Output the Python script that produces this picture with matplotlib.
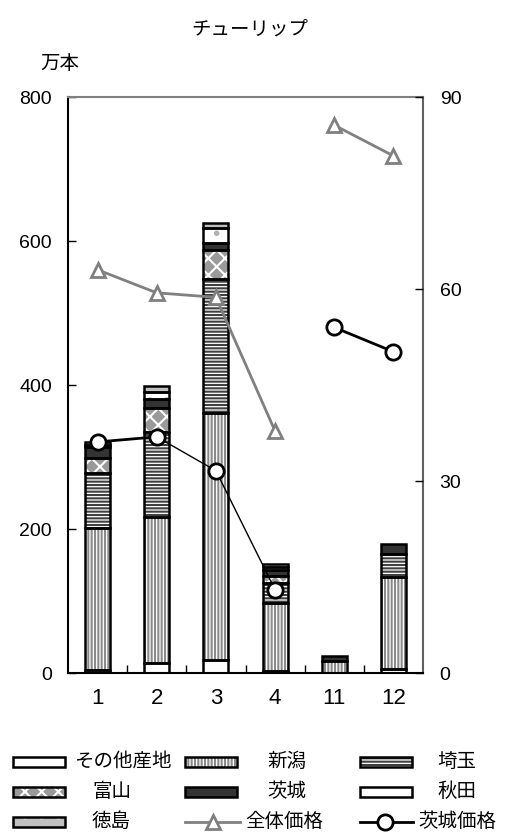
import numpy as np
import matplotlib
matplotlib.use("Agg")
import matplotlib.pyplot as plt
from matplotlib.patches import Rectangle
from matplotlib.lines import Line2D

plt.rcParams['font.family'] = ['Liberation Sans', 'Noto Sans CJK JP', 'DejaVu Sans']
plt.rcParams['hatch.linewidth'] = 1.5

# data
months = ['1', '2', '3', '4', '11', '12']
sonota = [4, 14, 18, 3, 0, 5]
niigata = [197, 203, 343, 94, 17, 128]
saitama = [77, 118, 186, 28, 0, 32]
toyama = [20, 33, 40, 10, 0, 0]
ibaraki = [16, 13, 10, 8, 7, 14]
akita = [3, 9, 21, 4, 0, 0]
tokushima = [4, 8, 7, 5, 0, 0]
zentai_price = [63.0, 59.4, 58.7, 37.8, 85.6, 80.8]
ibaraki_price = [36.1, 36.9, 31.6, 13.0, 54.0, 50.2]

# (label, values, facecolor, hatch, hatch colour)
series = [
    ('その他産地', sonota, 'white', None, 'white'),
    ('新潟', niigata, 'white', '|||||', '#8a8a8a'),
    ('埼玉', saitama, 'white', '-----', '#404040'),
    ('富山', toyama, '#9a9a9a', 'xx', 'white'),
    ('茨城', ibaraki, '#333333', None, '#333333'),
    ('秋田', akita, 'white', '.', '#b0b0b0'),
    ('徳島', tokushima, '#c0c0c0', '.', 'white'),
]

W, H = 507, 839
fig = plt.figure(figsize=(W / 100, H / 100), dpi=100)
ax = fig.add_axes([68 / W, 1 - 673 / H, (423 - 68) / W, (673 - 97) / H])

x = np.arange(len(months))
bw = 0.42
bottom = np.zeros(len(months))
for label, vals, fc, hatch, hc in series:
    vals = np.array(vals, dtype=float)
    fill = ax.bar(x, vals, bw, bottom=bottom, color=fc, hatch=hatch,
                  edgecolor=hc, linewidth=0, zorder=2)
    edge = ax.bar(x, vals, bw, bottom=bottom, fill=False,
                  edgecolor='black', linewidth=1.8, zorder=3)
    for p, q, v in zip(fill, edge, vals):
        if v == 0:
            p.set_visible(False)
            q.set_visible(False)
    bottom += vals

ax.set_xlim(-0.5, len(months) - 0.5)
ax.set_ylim(0, 800)
ax.set_yticks(range(0, 801, 200))
ax.set_xticks(x)
ax.set_xticklabels(months)
ax.set_xticks(x[:-1] + 0.5, minor=True)
ax.tick_params(axis='x', which='major', length=0, pad=11, labelsize=16)
ax.tick_params(axis='x', which='minor', direction='in', length=6, width=1)
ax.tick_params(axis='y', direction='in', length=6, width=1, pad=11.5, labelsize=14)
ax.spines['left'].set_color('black')
ax.spines['bottom'].set_color('black')
ax.spines['top'].set_color('#808080')
ax.spines['right'].set_color('#606060')
for s in ax.spines.values():
    s.set_linewidth(1.5)

ax2 = ax.twinx()
ax2.set_ylim(0, 90)
ax2.set_yticks([0, 30, 60, 90])
ax2.tick_params(axis='y', direction='in', length=6, width=1, pad=12, labelsize=14)
for s in ax2.spines.values():
    s.set_visible(False)

# price lines, broken between Apr and Nov
for seg in (slice(0, 4), slice(4, 6)):
    ax2.plot(x[seg], zentai_price[seg], color='#808080', lw=2, marker='^',
             ms=10, mfc='white', mec='#808080', mew=2, zorder=4)
lws = [2, 1, 1, None, 2]
for i, lw in enumerate(lws):
    if lw is None:
        continue
    ax2.plot(x[i:i + 2], ibaraki_price[i:i + 2], color='black', lw=lw, zorder=5)
ax2.plot(x, ibaraki_price, ls='none', marker='o', ms=11, mfc='white',
         mec='black', mew=2, zorder=6)

fig.text(250 / W, 1 - 30 / H, 'チューリップ', ha='center', va='center', fontsize=14)
fig.text(60 / W, 1 - 64 / H, '万本', ha='center', va='center', fontsize=14)

# legend drawn in pixel coordinates
lg = fig.add_axes([0, 0, 1, 1])
lg.set_xlim(0, W)
lg.set_ylim(H, 0)
lg.axis('off')
lg.patch.set_alpha(0)

patch_x = [13, 185, 360]
text_x = {'その他産地': 74, '新潟': 267, '埼玉': 437, '富山': 92, '茨城': 267,
          '秋田': 437, '徳島': 92, '全体価格': 245, '茨城価格': 418}
rows = [762, 792, 822]
for k, (label, vals, fc, hatch, hc) in enumerate(series):
    r, c = divmod(k, 3)
    y0 = rows[r]
    lg.add_patch(Rectangle((patch_x[c], y0 - 5), 52, 10, facecolor=fc,
                           hatch=hatch, edgecolor=hc, linewidth=0))
    lg.add_patch(Rectangle((patch_x[c], y0 - 5), 52, 10, fill=False,
                           edgecolor='black', linewidth=1.8))
    lg.text(text_x[label], y0, label, ha='left', va='center', fontsize=14)

lg.add_line(Line2D([185, 240], [rows[2], rows[2]], color='#808080', lw=2))
lg.add_line(Line2D([213], [rows[2]], marker='^', ms=10, mfc='white',
                   mec='#808080', mew=2))
lg.text(text_x['全体価格'], rows[2], '全体価格', ha='left', va='center', fontsize=14)
lg.add_line(Line2D([360, 413], [rows[2], rows[2]], color='black', lw=2))
lg.add_line(Line2D([385], [rows[2]], marker='o', ms=11, mfc='white',
                   mec='black', mew=2))
lg.text(text_x['茨城価格'], rows[2], '茨城価格', ha='left', va='center', fontsize=14)

fig.savefig('out.png', dpi=100)
